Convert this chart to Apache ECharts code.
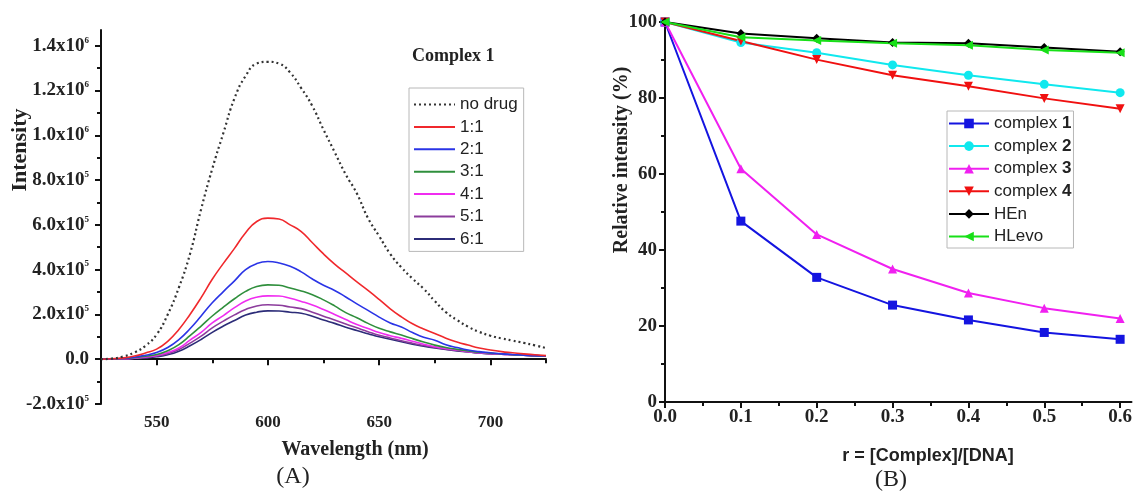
<!DOCTYPE html>
<html>
<head>
<meta charset="utf-8">
<script src="https://cdn.jsdelivr.net/npm/echarts@6/dist/echarts.min.js"></script>
<style>
  html, body { margin: 0; padding: 0; background: #fff; }
  #main { width: 1135px; height: 492px; }
</style>
</head>
<body>
<div id="main"></div>
<script>
// (A) emission spectra, intensity in units of 10^5
const wavelengths = [525, 530, 535, 540, 545, 550, 555, 560, 565, 570, 575, 580, 585, 590, 595, 600, 605, 610, 615, 620, 625,
  630, 635, 640, 645, 650, 655, 660, 665, 670, 675, 680, 685, 690, 695, 700, 705, 710, 715, 720, 725];
const noDrug = [0, 0.03, 0.12, 0.30, 0.60, 1.10, 2.00, 3.20, 4.70, 6.70, 8.50, 10.10, 11.65, 12.65, 13.20, 13.28, 13.20, 12.80, 12.10, 11.30, 10.25,
  9.25, 8.25, 7.40, 6.30, 5.50, 4.70, 4.10, 3.60, 3.15, 2.60, 2.10, 1.75, 1.45, 1.22, 1.05, 0.93, 0.83, 0.73, 0.62, 0.50];
const ratio1 = [0, 0.02, 0.06, 0.14, 0.28, 0.45, 0.80, 1.33, 2.00, 2.75, 3.57, 4.28, 4.95, 5.65, 6.15, 6.30, 6.26, 6.00, 5.70, 5.20, 4.70,
  4.25, 3.85, 3.45, 3.07, 2.67, 2.25, 1.89, 1.58, 1.35, 1.15, 0.94, 0.77, 0.63, 0.50, 0.41, 0.34, 0.29, 0.24, 0.20, 0.16];
const ratio2 = [0, 0.01, 0.04, 0.09, 0.18, 0.30, 0.52, 0.87, 1.36, 1.93, 2.52, 3.02, 3.50, 4.00, 4.27, 4.36, 4.30, 4.15, 3.90, 3.58, 3.30,
  3.07, 2.78, 2.47, 2.18, 1.88, 1.62, 1.44, 1.19, 0.98, 0.85, 0.65, 0.52, 0.41, 0.34, 0.29, 0.24, 0.21, 0.18, 0.16, 0.15];
const ratio3 = [0, 0.01, 0.03, 0.07, 0.13, 0.21, 0.38, 0.65, 1.05, 1.48, 1.93, 2.33, 2.70, 3.03, 3.25, 3.32, 3.30, 3.18, 3.05, 2.88, 2.65,
  2.38, 2.08, 1.85, 1.60, 1.38, 1.22, 1.08, 0.92, 0.77, 0.63, 0.52, 0.44, 0.37, 0.31, 0.27, 0.23, 0.20, 0.18, 0.16, 0.15];
const ratio4 = [0, 0.01, 0.02, 0.05, 0.10, 0.17, 0.30, 0.50, 0.85, 1.20, 1.62, 1.95, 2.30, 2.60, 2.77, 2.83, 2.82, 2.72, 2.58, 2.42, 2.22,
  2.00, 1.77, 1.55, 1.37, 1.19, 1.05, 0.93, 0.80, 0.67, 0.56, 0.48, 0.41, 0.34, 0.29, 0.25, 0.22, 0.20, 0.18, 0.16, 0.15];
const ratio5 = [0, 0.01, 0.02, 0.04, 0.08, 0.14, 0.25, 0.43, 0.72, 1.03, 1.40, 1.70, 1.98, 2.22, 2.38, 2.43, 2.41, 2.33, 2.26, 2.10, 1.92,
  1.75, 1.57, 1.40, 1.23, 1.07, 0.95, 0.82, 0.71, 0.61, 0.53, 0.45, 0.39, 0.33, 0.28, 0.25, 0.22, 0.20, 0.18, 0.16, 0.15];
const ratio6 = [0, 0.01, 0.02, 0.03, 0.06, 0.11, 0.20, 0.36, 0.60, 0.88, 1.20, 1.48, 1.73, 1.97, 2.10, 2.16, 2.15, 2.10, 2.05, 1.92, 1.75,
  1.60, 1.43, 1.28, 1.14, 1.00, 0.89, 0.78, 0.67, 0.58, 0.50, 0.43, 0.37, 0.32, 0.28, 0.24, 0.22, 0.20, 0.18, 0.16, 0.15];
const spectraNames = ['no drug', '1:1', '2:1', '3:1', '4:1', '5:1', '6:1'];
const spectraColors = ['#333333', '#f0282c', '#2a34e6', '#2f8f3c', '#f02cf0', '#8c3c9c', '#2c2c78'];
const wlTicks = [550, 600, 650, 700];
const wlMinor = [525, 575, 625, 675, 725];
const intTicks = [-2, 0, 2, 4, 6, 8, 10, 12, 14];
const intMinor = [-1, 1, 3, 5, 7, 9, 11, 13];

// (B) relative intensity vs r
const rValues = [0, 0.1, 0.2, 0.3, 0.4, 0.5, 0.6];
const complex1 = [100, 47.6, 32.8, 25.5, 21.6, 18.3, 16.5];
const complex2 = [100, 94.6, 91.9, 88.7, 86.0, 83.6, 81.4];
const complex3 = [100, 61.4, 44.1, 35.0, 28.7, 24.7, 22.0];
const complex4 = [100, 95.0, 90.1, 86.0, 83.1, 79.9, 77.2];
const hEn = [100, 97.0, 95.7, 94.6, 94.4, 93.3, 92.2];
const hLevo = [100, 96.0, 95.1, 94.4, 93.9, 92.6, 91.9];
const rTicks = [0, 0.1, 0.2, 0.3, 0.4, 0.5, 0.6];
const rMinor = [0.05, 0.15, 0.25, 0.35, 0.45, 0.55];

const serif = '"Liberation Serif", "DejaVu Serif", serif';
const sans = '"Liberation Sans", Arial, sans-serif';

var myChart = echarts.init(document.getElementById('main'), null, {renderer: 'canvas'});

const axisLine = {show: true, lineStyle: {color: '#111', width: 2}};
const minorAxis = (gridIndex, values, extra) => Object.assign({
    gridIndex: gridIndex,
    type: 'value',
    axisLine: {show: false},
    splitLine: {show: false},
    axisLabel: {show: false},
    axisTick: {show: true, length: 4, customValues: values, lineStyle: {color: '#111', width: 2}}
}, extra);

const spectra = [noDrug, ratio1, ratio2, ratio3, ratio4, ratio5, ratio6];
const series = spectra.map((vals, i) => ({
    name: spectraNames[i],
    type: 'line',
    xAxisIndex: 0,
    yAxisIndex: 0,
    showSymbol: false,
    symbol: 'none',
    smooth: true,
    data: wavelengths.map((w, j) => [w, vals[j]]),
    lineStyle: {color: spectraColors[i], width: i === 0 ? 2.2 : 1.6, type: i === 0 ? [2, 3] : 'solid'},
    itemStyle: {color: spectraColors[i]},
    z: 10 - i
}));

const relSeries = [
    {name: 'complex 1', data: complex1, color: '#1414e0', symbol: 'rect', rotate: 0},
    {name: 'complex 2', data: complex2, color: '#10e8ee', symbol: 'circle', rotate: 0},
    {name: 'complex 3', data: complex3, color: '#f020f0', symbol: 'triangle', rotate: 0},
    {name: 'complex 4', data: complex4, color: '#f01010', symbol: 'triangle', rotate: 180},
    {name: 'HEn', data: hEn, color: '#000000', symbol: 'diamond', rotate: 0},
    {name: 'HLevo', data: hLevo, color: '#18e018', symbol: 'triangle', rotate: 90}
];
relSeries.forEach(s => {
    series.push({
        name: s.name,
        type: 'line',
        xAxisIndex: 2,
        yAxisIndex: 2,
        symbol: s.symbol,
        symbolRotate: s.rotate,
        symbolSize: 9,
        clip: false,
        data: rValues.map((r, j) => [r, s.data[j]]),
        lineStyle: {color: s.color, width: 2},
        itemStyle: {color: s.color}
    });
});

const supLabel = (v) => {
    if (v === 0) return '{m|0.0}';
    if (Math.abs(v) >= 10) return '{m|' + (v / 10).toFixed(1) + 'x10}{s|6}';
    return '{m|' + v.toFixed(1) + 'x10}{s|5}';
};

myChart.setOption({
    backgroundColor: '#ffffff',
    animation: false,
    grid: [
        {left: 101, top: 30, width: 445, height: 374},
        {left: 665, top: 22, width: 467, height: 380}
    ],
    xAxis: [
        {
            gridIndex: 0, type: 'value', min: 525, max: 725,
            axisLine: axisLine,
            splitLine: {show: false},
            axisTick: {show: true, length: 6, customValues: wlTicks, lineStyle: {color: '#111', width: 2}},
            axisLabel: {customValues: wlTicks, margin: 10, color: '#222', fontFamily: serif, fontWeight: 'bold', fontSize: 17}
        },
        minorAxis(0, wlMinor, {min: 525, max: 725, position: 'bottom'}),
        {
            gridIndex: 1, type: 'value', min: 0, max: 0.615,
            axisLine: axisLine,
            splitLine: {show: false},
            axisTick: {show: true, length: 6, customValues: rTicks, lineStyle: {color: '#111', width: 2}},
            axisLabel: {customValues: rTicks, margin: 6, color: '#222', fontFamily: serif, fontWeight: 'bold', fontSize: 19,
                formatter: v => v.toFixed(1)}
        },
        minorAxis(1, rMinor, {min: 0, max: 0.615, position: 'bottom'})
    ],
    yAxis: [
        {
            gridIndex: 0, type: 'value', min: -2, max: 14.7,
            axisLine: axisLine,
            splitLine: {show: false},
            axisTick: {show: true, length: 6, customValues: intTicks, lineStyle: {color: '#111', width: 2}},
            axisLabel: {
                customValues: intTicks, margin: 12, formatter: supLabel,
                rich: {
                    m: {fontFamily: serif, fontWeight: 'bold', fontSize: 19, color: '#222', lineHeight: 20},
                    s: {fontFamily: serif, fontWeight: 'bold', fontSize: 9, color: '#222', verticalAlign: 'top', lineHeight: 20}
                }
            }
        },
        minorAxis(0, intMinor, {min: -2, max: 14.7, position: 'left'}),
        {
            gridIndex: 1, type: 'value', min: 0, max: 100, interval: 20,
            axisLine: axisLine,
            splitLine: {show: false},
            axisTick: {show: true, length: 6, lineStyle: {color: '#111', width: 2}},
            minorTick: {show: true, splitNumber: 2, length: 4, lineStyle: {color: '#111', width: 2}},
            axisLabel: {margin: 8, color: '#222', fontFamily: serif, fontWeight: 'bold', fontSize: 19}
        }
    ],
    legend: [
        {
            data: spectraNames,
            orient: 'vertical',
            left: 409, top: 88,
            padding: [8, 6, 4, 4],
            itemWidth: 41, itemHeight: 14, itemGap: 5.4,
            itemStyle: {opacity: 0},
            borderColor: '#b8b8b8', borderWidth: 1,
            textStyle: {fontFamily: sans, fontSize: 17, color: '#222'}
        },
        {
            data: relSeries.map(s => s.name),
            orient: 'vertical',
            left: 947, top: 111,
            padding: [4, 2, 3, 1],
            itemWidth: 40, itemHeight: 12, itemGap: 5.6,
            borderColor: '#b8b8b8', borderWidth: 1,
            formatter: name => {
                const m = name.match(/^complex (\d)$/);
                return m ? '{t|complex }{n|' + m[1] + '}' : '{t|' + name + '}';
            },
            textStyle: {
                fontFamily: sans, fontSize: 17, color: '#222',
                rich: {
                    t: {fontFamily: sans, fontSize: 17, color: '#222'},
                    n: {fontFamily: sans, fontSize: 17, fontWeight: 'bold', color: '#222'}
                }
            }
        }
    ],
    graphic: [
        {type: 'text', x: 412, y: 56, style: {text: 'Complex 1', font: 'bold 18px ' + serif, fill: '#222', textAlign: 'left', textVerticalAlign: 'middle'}},
        {type: 'text', x: 20, y: 150, rotation: Math.PI / 2, style: {text: 'Intensity', font: 'bold 22px ' + serif, fill: '#222', textAlign: 'center', textVerticalAlign: 'middle'}},
        {type: 'text', x: 355, y: 450, style: {text: 'Wavelength (nm)', font: 'bold 20px ' + serif, fill: '#222', textAlign: 'center', textVerticalAlign: 'middle'}},
        {type: 'text', x: 293, y: 477, style: {text: '(A)', font: '24px ' + serif, fill: '#222', textAlign: 'center', textVerticalAlign: 'middle'}},
        {type: 'text', x: 622, y: 160, rotation: Math.PI / 2, style: {text: 'Relative intensity (%)', font: 'bold 20px ' + serif, fill: '#222', textAlign: 'center', textVerticalAlign: 'middle'}},
        {type: 'text', x: 928, y: 456, style: {text: 'r = [Complex]/[DNA]', font: 'bold 18px ' + sans, fill: '#222', textAlign: 'center', textVerticalAlign: 'middle'}},
        {type: 'text', x: 891, y: 480, style: {text: '(B)', font: '24px ' + serif, fill: '#222', textAlign: 'center', textVerticalAlign: 'middle'}}
    ],
    series: series
});
</script>
</body>
</html>
